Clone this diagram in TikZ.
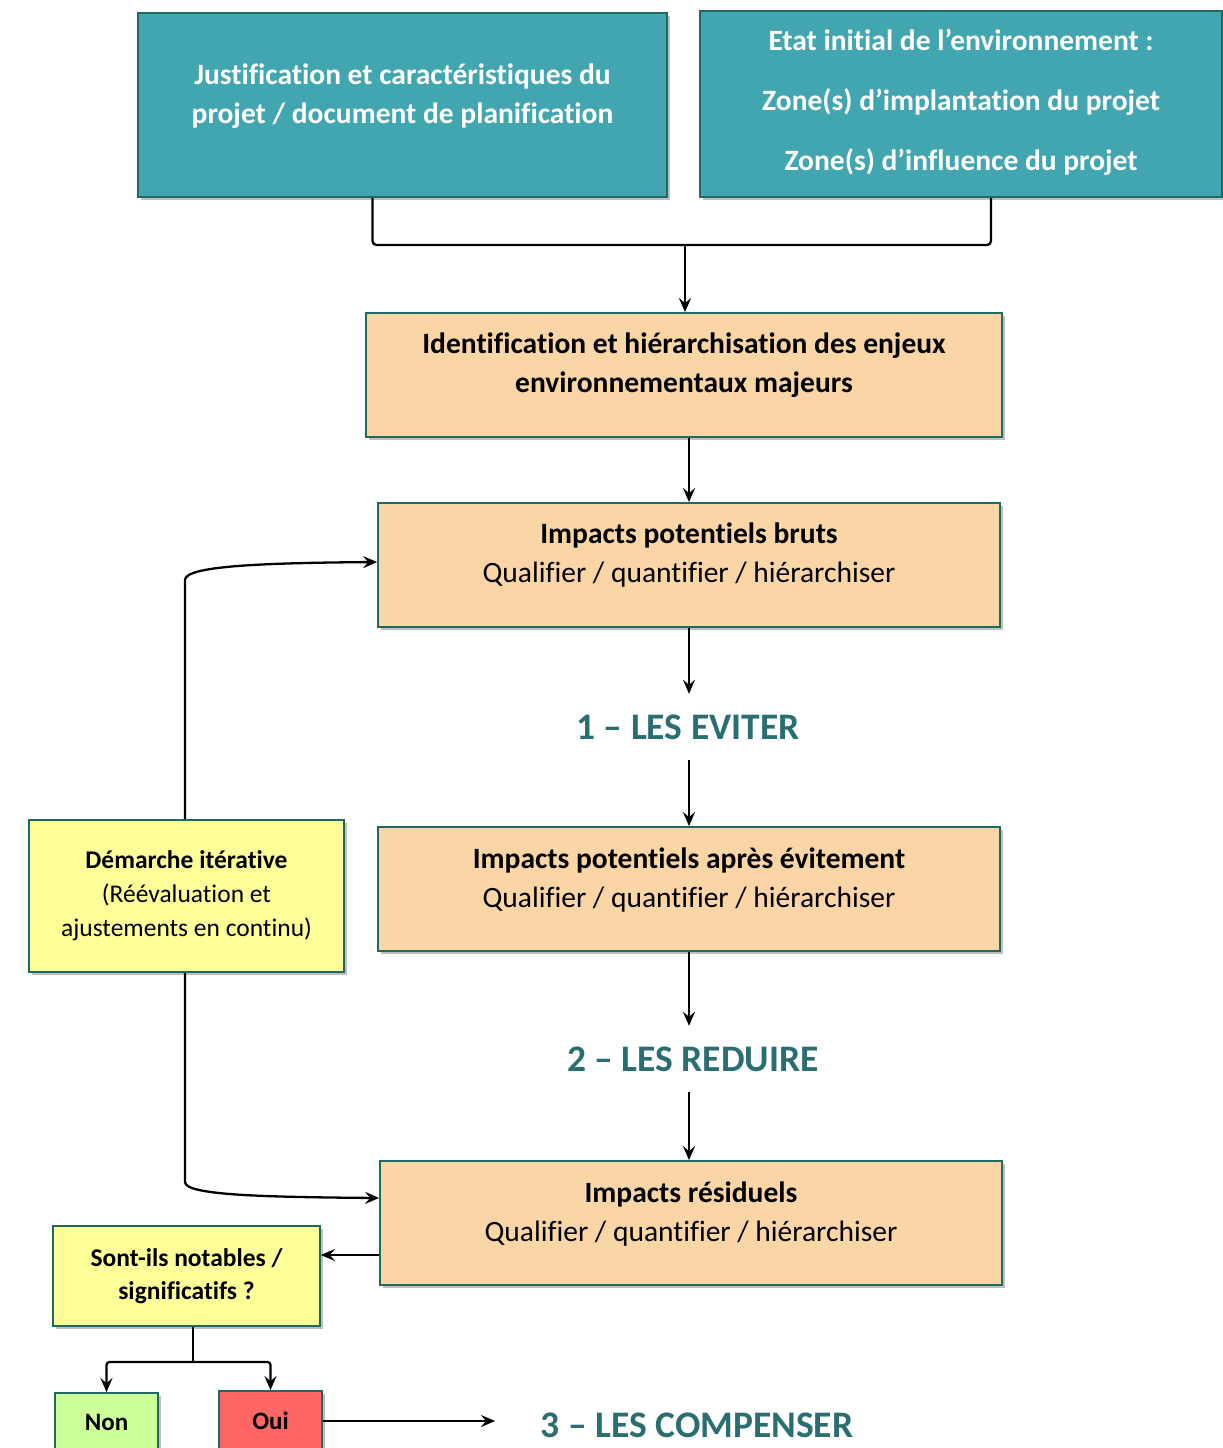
\documentclass[tikz,border=0pt]{standalone}
\usepackage{fontspec}
\setmainfont[Ligatures=NoCommon]{Carlito}
\usetikzlibrary{arrows.meta,shadows,calc}
\definecolor{tealfill}{RGB}{65,166,175}
\definecolor{boxline}{RGB}{30,105,98}
\definecolor{orfill}{RGB}{250,213,166}
\definecolor{ylfill}{RGB}{255,255,153}
\definecolor{grfill}{RGB}{204,255,153}
\definecolor{rdfill}{RGB}{255,102,102}
\definecolor{headcol}{RGB}{43,110,114}
\tikzset{
  boxbase/.style={draw=boxline, line width=1.8pt, rectangle, inner sep=0pt,
    drop shadow={shadow xshift=3pt, shadow yshift=-3pt, fill=black, opacity=0.25}},
  tealbox/.style={boxbase, fill=tealfill},
  orbox/.style={boxbase, fill=orfill},
  ylbox/.style={boxbase, fill=ylfill, align=center},
  txt/.style={align=center, font=\fontsize{29.5}{39}\selectfont},
  btxt/.style={align=center, font=\fontsize{29.5}{39}\selectfont\bfseries},
  smalltxt/.style={font=\fontsize{25.5}{34}\selectfont},
  head/.style={font=\fontsize{37.5}{44}\selectfont\bfseries, text=headcol, minimum height=66pt, inner sep=0pt},
  arr/.style={line width=2.3pt, -{Stealth[length=14pt,width=12pt,inset=5pt]}},
  conn/.style={line width=2.3pt}
}
\begin{document}
\begin{tikzpicture}[x=1pt,y=-1pt]
\useasboundingbox (0,0) rectangle (1223,1448);

% top teal boxes
\node[tealbox, minimum width=529pt, minimum height=184pt] (A) at (402.5,105) {};
\node[btxt, text=white] (At) at (402.5,96)
  {Justification et caractéristiques du\\projet / document de planification};
\node[tealbox, minimum width=522pt, minimum height=186pt] (B) at (961,104) {};
\node[btxt, text=white] (Bt) at (961,102)
  {Etat initial de l’environnement :\\[21pt]Zone(s) d’implantation du projet\\[21pt]Zone(s) d’influence du projet};

% orange boxes
\node[orbox, minimum width=636pt, minimum height=124pt] (C) at (684,375) {};
\node[btxt] (Ct) at (684,365.5)
  {Identification et hiérarchisation des enjeux\\environnementaux majeurs};
\node[orbox, minimum width=622pt, minimum height=124pt] (D) at (689,565) {};
\node[txt] (Dt) at (689,555.5) {\textbf{Impacts potentiels bruts}\\Qualifier / quantifier / hiérarchiser};
\node[orbox, minimum width=622pt, minimum height=124pt] (E) at (689,889) {};
\node[txt] (Et) at (689,880.5) {\textbf{Impacts potentiels après évitement}\\Qualifier / quantifier / hiérarchiser};
\node[orbox, minimum width=622pt, minimum height=124pt] (F) at (691,1223) {};
\node[txt] (Ft) at (691,1214.5) {\textbf{Impacts résiduels}\\Qualifier / quantifier / hiérarchiser};

% headings
\node[head] (L1) at (688,727) {1 – LES EVITER};
\node[head] (L2) at (693,1059) {2 – LES REDUIRE};
\node[head] (L3) at (697,1425) {3 – LES COMPENSER};

% yellow boxes
\node[ylbox, smalltxt, minimum width=315pt, minimum height=152pt] (G) at (186.5,896)
  {\textbf{Démarche itérative}\\(Réévaluation et\\ajustements en continu)};
\node[ylbox, minimum width=267pt, minimum height=100pt, font=\fontsize{25.5}{33}\selectfont\bfseries] (H) at (186.5,1276)
  {Sont-ils notables /\\significatifs ?};
\node[boxbase, fill=grfill, minimum width=103pt, minimum height=58pt, font=\fontsize{25}{30}\selectfont\bfseries] (Non) at (106.5,1422) {Non};
\node[boxbase, fill=rdfill, minimum width=103pt, minimum height=60pt, font=\fontsize{25}{30}\selectfont\bfseries] (Oui) at (270.5,1421) {Oui};

% connectors
\coordinate (j) at (685,245);
\draw[conn, rounded corners=4pt] ([xshift=-30pt]A.south) -- ([xshift=-30pt]A.south |- j)
  -- ([xshift=30pt]B.south |- j) -- ([xshift=30pt]B.south);
\draw[arr] (j) -- (j |- C.north);
\draw[arr] (D.north |- C.south) -- (D.north);
\draw[arr] (D.south) -- (D.south |- L1.north);
\draw[arr] (D.south |- L1.south) -- (E.north);
\draw[arr] (E.south) -- (E.south |- L2.north);
\draw[arr] (E.south |- L2.south) -- (E.south |- F.north);
\coordinate (lp) at (185,0);
\draw[arr] (lp |- G.north) -- (185,580) .. controls (185,566) and (260,563) .. ([yshift=3pt]D.west);
\draw[arr] (lp |- G.south) -- (185,1182) .. controls (185,1195) and (260,1197) .. ([yshift=25pt]F.west);
\draw[arr] ([yshift=-32pt]F.west) -- ([yshift=-32pt]F.west -| H.east);
\coordinate (k) at (193,1362);
\draw[conn] (H.south -| k) -- (k);
\draw[arr, rounded corners=3pt] (k) -| (Non.north);
\draw[arr, rounded corners=3pt] (k) -| (Oui.north);
\coordinate (e3) at (495,1421);
\draw[arr] (Oui.east) -- (e3);
\end{tikzpicture}
\end{document}
